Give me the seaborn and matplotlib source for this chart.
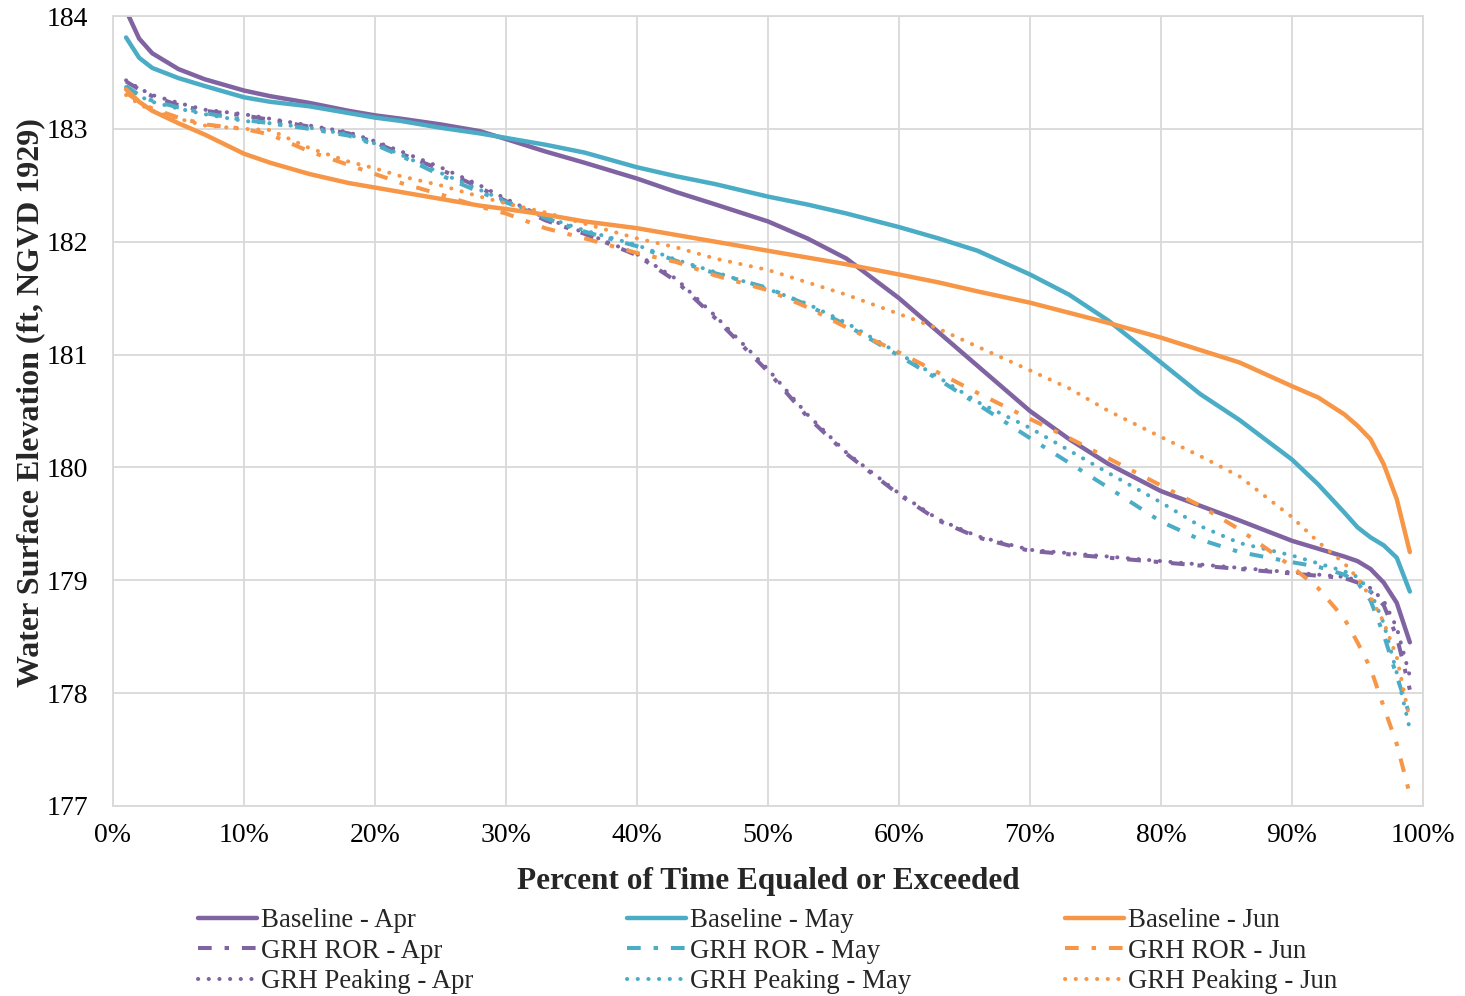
import matplotlib
matplotlib.use("Agg")
import matplotlib.pyplot as plt
import numpy as np
import pandas as pd
import seaborn as sns
from matplotlib.ticker import FuncFormatter

# Percent of time equaled or exceeded (shared by all series)
pct = [1, 2, 3, 5, 7, 10, 12, 15, 18, 20, 22, 25, 28, 30, 33, 36, 40, 43, 46,
       50, 53, 56, 60, 63, 66, 70, 73, 76, 80, 83, 86, 90, 92, 94, 95, 96, 97,
       98, 99]

# Water surface elevation, ft NGVD 1929
baseline_apr = [184.05, 183.80, 183.67, 183.53, 183.44, 183.34, 183.29, 183.23,
                183.16, 183.12, 183.09, 183.04, 182.98, 182.91, 182.80, 182.70,
                182.56, 182.44, 182.33, 182.18, 182.03, 181.85, 181.50, 181.20,
                180.90, 180.50, 180.25, 180.03, 179.79, 179.66, 179.53, 179.35,
                179.28, 179.21, 179.17, 179.10, 178.98, 178.80, 178.45]
baseline_may = [183.81, 183.63, 183.54, 183.45, 183.38, 183.28, 183.24, 183.20,
                183.14, 183.10, 183.07, 183.01, 182.96, 182.92, 182.86, 182.79,
                182.66, 182.58, 182.51, 182.40, 182.33, 182.25, 182.13, 182.03,
                181.92, 181.71, 181.53, 181.30, 180.93, 180.65, 180.42, 180.07,
                179.85, 179.60, 179.47, 179.38, 179.31, 179.20, 178.90]
baseline_jun = [183.35, 183.24, 183.16, 183.05, 182.95, 182.78, 182.70, 182.60,
                182.52, 182.48, 182.44, 182.38, 182.32, 182.29, 182.24, 182.18,
                182.12, 182.06, 182.00, 181.92, 181.86, 181.80, 181.71, 181.64,
                181.56, 181.46, 181.37, 181.28, 181.15, 181.04, 180.93, 180.72,
                180.62, 180.47, 180.37, 180.25, 180.03, 179.72, 179.25]
ror_apr = [183.42, 183.35, 183.29, 183.21, 183.16, 183.12, 183.08, 183.02,
           182.96, 182.88, 182.78, 182.64, 182.48, 182.36, 182.19, 182.07,
           181.88, 181.65, 181.32, 180.85, 180.45, 180.12, 179.76, 179.53,
           179.38, 179.26, 179.23, 179.20, 179.16, 179.13, 179.10, 179.06,
           179.04, 179.02, 178.98, 178.90, 178.78, 178.50, 178.03]
ror_may = [183.38, 183.30, 183.25, 183.19, 183.14, 183.08, 183.05, 183.00,
           182.94, 182.86, 182.76, 182.59, 182.44, 182.35, 182.21, 182.09,
           181.96, 181.83, 181.72, 181.59, 181.44, 181.26, 180.99, 180.78,
           180.56, 180.26, 180.04, 179.82, 179.52, 179.36, 179.25, 179.16,
           179.12, 179.05, 178.98, 178.82, 178.52, 178.15, 177.80]
ror_jun = [183.32, 183.24, 183.18, 183.10, 183.04, 183.00, 182.95, 182.80,
           182.68, 182.60, 182.52, 182.42, 182.31, 182.25, 182.12, 182.03,
           181.90, 181.82, 181.70, 181.57, 181.42, 181.24, 181.02, 180.84,
           180.66, 180.43, 180.26, 180.08, 179.84, 179.66, 179.45, 179.12,
           178.93, 178.66, 178.45, 178.22, 177.88, 177.55, 177.10]
peak_apr = [183.43, 183.36, 183.30, 183.23, 183.17, 183.13, 183.09, 183.03,
            182.97, 182.89, 182.80, 182.66, 182.50, 182.38, 182.21, 182.08,
            181.89, 181.67, 181.34, 180.87, 180.47, 180.13, 179.77, 179.54,
            179.39, 179.27, 179.24, 179.21, 179.17, 179.14, 179.11, 179.07,
            179.05, 179.03, 179.00, 178.93, 178.82, 178.58, 178.15]
peak_may = [183.37, 183.29, 183.24, 183.18, 183.13, 183.07, 183.05, 183.01,
            182.95, 182.87, 182.77, 182.61, 182.46, 182.36, 182.22, 182.10,
            181.97, 181.84, 181.73, 181.58, 181.45, 181.28, 181.01, 180.80,
            180.58, 180.35, 180.15, 179.95, 179.69, 179.48, 179.33, 179.22,
            179.15, 179.08, 179.03, 178.90, 178.62, 178.18, 177.68]
peak_jun = [183.30, 183.22, 183.16, 183.09, 183.03, 183.00, 182.99, 182.83,
            182.71, 182.65, 182.58, 182.50, 182.40, 182.34, 182.26, 182.16,
            182.03, 181.95, 181.85, 181.75, 181.64, 181.53, 181.36, 181.23,
            181.07, 180.86, 180.70, 180.50, 180.27, 180.10, 179.92, 179.56,
            179.34, 179.15, 179.02, 178.85, 178.63, 178.32, 177.76]

series_names = ["Baseline - Apr", "GRH ROR - Apr", "GRH Peaking - Apr",
                "Baseline - May", "GRH ROR - May", "GRH Peaking - May",
                "Baseline - Jun", "GRH ROR - Jun", "GRH Peaking - Jun"]
series_values = [baseline_apr, ror_apr, peak_apr,
                 baseline_may, ror_may, peak_may,
                 baseline_jun, ror_jun, peak_jun]

y_ticks = [177, 178, 179, 180, 181, 182, 183, 184]
x_ticks = list(range(0, 101, 10))

PURPLE, CYAN, ORANGE = "#8064A2", "#4BACC6", "#F79646"
month_color = {"Apr": PURPLE, "May": CYAN, "Jun": ORANGE}

frames = [pd.DataFrame({"pct": pct, "wse": vals, "series": name})
          for name, vals in zip(series_names, series_values)]
df = pd.concat(frames, ignore_index=True)

sns.set_theme(style="whitegrid")
plt.rcParams["font.family"] = ["Liberation Serif", "DejaVu Serif"]

fig = plt.figure(figsize=(14.65, 9.96), dpi=100)
ax = fig.add_axes([0.0771, 0.1908, 0.8942, 0.7931])


def line_style(name):
    if name.startswith("Baseline"):
        return dict(linestyle="-", linewidth=3.2, solid_capstyle="round")
    if "ROR" in name:
        return dict(linestyle=(0, (3.4, 3.2, 1.1, 3.2)), linewidth=2.9,
                    dash_capstyle="butt")
    return dict(linestyle=(0, (0.05, 2.6)), linewidth=2.9,
                dash_capstyle="round")


for name in series_names:
    sub = df[df["series"] == name]
    sns.lineplot(data=sub, x="pct", y="wse", ax=ax, sort=False,
                 color=month_color[name[-3:]], label=name, estimator=None,
                 **line_style(name))

ax.set_xlim(0, 100)
ax.set_ylim(177, 184)
ax.set_xticks(x_ticks)
ax.set_yticks(y_ticks)
ax.xaxis.set_major_formatter(FuncFormatter(lambda v, _: f"{int(v)}%"))
ax.grid(True, color="#D9D9D9", linewidth=1.3)
ax.set_facecolor("white")
for s in ax.spines.values():
    s.set_visible(True)
    s.set_color("#D9D9D9")
    s.set_linewidth(1.3)
ax.tick_params(axis="both", length=0, labelsize=20, colors="black")
ax.tick_params(axis="y", pad=18)
ax.tick_params(axis="x", pad=12)

ax.set_xlabel("Percent of Time Equaled or Exceeded", fontsize=22.5,
              fontweight="bold", labelpad=14)
ax.set_ylabel("Water Surface Elevation (ft, NGVD 1929)", fontsize=23,
              fontweight="bold")
ax.yaxis.set_label_coords(-0.052, 0.511)

handles, labels = ax.get_legend_handles_labels()
ax.legend_.remove()
leg = fig.legend(handles, labels, ncol=3, loc="upper center",
                 bbox_to_anchor=(0.524, 0.088), frameon=False, fontsize=19.4,
                 handlelength=2.2, handletextpad=0.15, columnspacing=5.7,
                 labelspacing=0.2, borderaxespad=0, borderpad=0)

fig.savefig("out.png", dpi=100, facecolor="white")
